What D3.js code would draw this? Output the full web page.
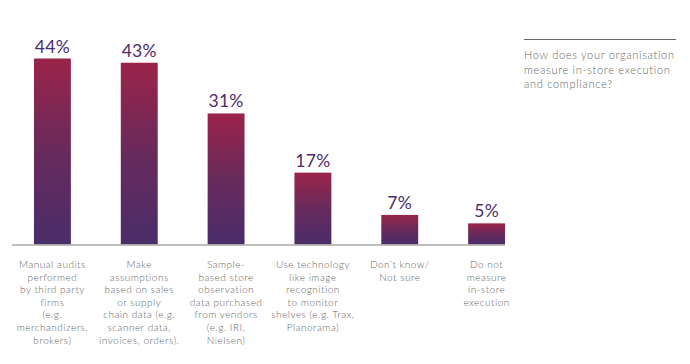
<!DOCTYPE html>
<html><head><meta charset="utf-8">
<script src="https://cdn.jsdelivr.net/npm/d3@7"></script>
<style>
html,body{margin:0;padding:0;background:#fff;}
svg{display:block;}
text{font-family:Lato,"Open Sans",sans-serif;}
</style></head>
<body>
<svg id="chart" width="690" height="364"></svg>
<script>
const categories = [
  ["Manual audits","performed","by third party","firms","(e.g.","merchandizers,","brokers)"],
  ["Make","assumptions","based on sales","or supply","chain data (e.g.","scanner data,","invoices, orders)."],
  ["Sample-","based store","observation","data purchased","from vendors","(e.g. IRI,","Nielsen)"],
  ["Use technology","like image","recognition","to monitor","shelves (e.g. Trax,","Planorama)"],
  ["Don\u2019t know/","Not sure"],
  ["Do not","measure","in-store","execution"]
];
const values = [44, 43, 31, 17, 7, 5];
const valueLabels = ["44%","43%","31%","17%","7%","5%"];
const questionLines = ["How does your organisation","measure in-store execution","and compliance?"];

const svg = d3.select("#chart");
const keys = d3.range(values.length);
const x = d3.scaleBand().domain(keys).range([9, 530]).paddingInner(0.575).paddingOuter(0.2875);
const y = d3.scaleLinear().domain([0, 44]).range([244.5, 58.5]);

const defs = svg.append("defs");
const grad = defs.append("linearGradient").attr("id","barGrad").attr("x1",0).attr("y1",0).attr("x2",0).attr("y2",1);
grad.append("stop").attr("offset","0%").attr("stop-color","#9b2449");
grad.append("stop").attr("offset","50%").attr("stop-color","#682a5c");
grad.append("stop").attr("offset","100%").attr("stop-color","#4a2d6a");

svg.selectAll("rect.bar").data(values).join("rect")
  .attr("class","bar")
  .attr("x",(d,i)=>x(i))
  .attr("width",x.bandwidth())
  .attr("y",d=>y(d))
  .attr("height",d=>y(0)-y(d))
  .attr("fill","url(#barGrad)");

// baseline
svg.append("line").attr("x1",12).attr("x2",x(values.length-1)+x.bandwidth())
  .attr("y1",y(0)+0.5).attr("y2",y(0)+0.5)
  .attr("stroke","#aaaaaa").attr("stroke-width",1.5);

svg.selectAll("text.val").data(values).join("text")
  .attr("class","val")
  .attr("x",(d,i)=>x(i)+x.bandwidth()/2)
  .attr("y",d=>y(d)-6)
  .attr("text-anchor","middle")
  .attr("fill","#4b2d6b")
  .attr("font-size","17.5px")
  .attr("font-weight",400)
  .attr("letter-spacing","0.3px")
  .text((d,i)=>valueLabels[i]);

const catG = svg.selectAll("g.cat").data(categories).join("g").attr("class","cat")
  .attr("transform",(d,i)=>`translate(${x(i)+x.bandwidth()/2},268)`);
catG.selectAll("text").data(d=>d).join("text")
  .attr("x",0).attr("y",(d,j)=>j*12.6)
  .attr("text-anchor","middle")
  .attr("fill","#666")
  .attr("font-size","10px")
  .attr("font-weight",300)
  .attr("letter-spacing","0.5px")
  .text(d=>d);

// right annotation
svg.append("line").attr("x1",524).attr("x2",676).attr("y1",39.5).attr("y2",39.5)
  .attr("stroke","#666").attr("stroke-width",1);
svg.selectAll("text.q").data(questionLines).join("text").attr("class","q")
  .attr("x",524).attr("y",(d,i)=>59+i*14.6)
  .attr("fill","#666")
  .attr("font-size","11px").attr("font-weight",300)
  .attr("letter-spacing","0.7px")
  .text(d=>d);
</script>
</body></html>
